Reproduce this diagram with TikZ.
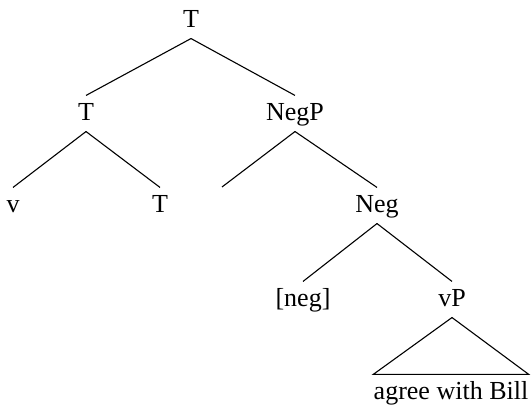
\documentclass[tikz,border=0pt]{standalone}
\usepackage{fontspec}
\setmainfont{Liberation Serif}
\tikzset{lbl/.style={anchor=base, inner xsep=0pt, inner ysep=4pt, text height=21pt, text depth=6pt}}
\begin{document}
\begin{tikzpicture}[x=1pt,y=1pt,line width=1.1pt,font=\fontsize{26}{30}\selectfont]
\useasboundingbox (0,0) rectangle (532,406);
\node[lbl] (root) at (191,378) {T};
\node[lbl] (tbar) at (86,285) {T};
\node[lbl] (negp) at (295,285) {NegP};
\node[lbl] (v) at (13,193) {v};
\node[lbl] (thead) at (160,193) {T};
\coordinate (gap) at (222,219); % empty specifier
\node[lbl] (neg) at (377,193) {Neg};
\node[lbl] (negf) at (303,99) {[neg]};
\node[lbl] (vp) at (452,99) {vP};
\node[lbl] (bill) at (451,6) {agree with Bill};
\draw (root.south) -- (tbar.north);
\draw (root.south) -- (negp.north);
\draw (tbar.south) -- (v.north);
\draw (tbar.south) -- (thead.north);
\draw (negp.south) -- (gap);
\draw (negp.south) -- (neg.north);
\draw (neg.south) -- (negf.north);
\draw (neg.south) -- (vp.north);
\draw (vp.south) -- (bill.north west) -- (bill.north east) -- cycle; % triangle
\end{tikzpicture}
\end{document}
